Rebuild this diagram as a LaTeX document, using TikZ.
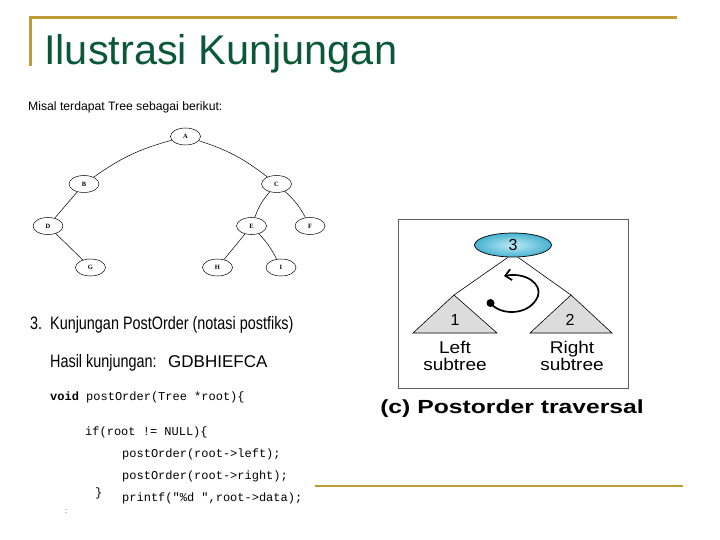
\documentclass[tikz,border=0pt]{standalone}
\usepackage{fontspec}
\setmainfont{Liberation Sans}
\setmonofont{Liberation Mono}
\newfontfamily\treefont{Liberation Serif}
\usetikzlibrary{arrows.meta,shapes.geometric}
\definecolor{slidegold}{RGB}{190,158,52}
\definecolor{titlegreen}{RGB}{10,88,56}
\definecolor{rootcyan}{RGB}{70,178,208}
\definecolor{rootlight}{RGB}{190,235,245}
\definecolor{subgray}{RGB}{220,220,220}
\definecolor{boxgray}{RGB}{95,95,95}

\tikzset{
  treenode/.style={draw,ellipse,line width=0.5pt,minimum width=30pt,minimum height=17pt,
    inner sep=0pt,font=\treefont\bfseries\fontsize{6.5}{7}\selectfont},
  treeedge/.style={line width=0.5pt},
  narrowtext/.style={anchor=base west,inner sep=0pt,xscale=0.8,font=\fontsize{18}{22}\selectfont},
  codeline/.style={anchor=base west,inner sep=0pt,font=\ttfamily\fontsize{12}{14}\selectfont},
  subtreelabel/.style={align=center,xscale=1.12,font=\fontsize{17}{17}\selectfont}
}

\begin{document}
\begin{tikzpicture}[x=1pt,y=-1pt]
  \useasboundingbox (0,0) rectangle (720,540);
  \def\Base{333}

  % slide frame
  \draw[slidegold,line width=3pt] (29,18) -- (677,18);
  \draw[slidegold,line width=3pt] (30.5,18) -- (30.5,66);
  \draw[slidegold,line width=2.5pt] (315,486) -- (683,486);

  \node[anchor=base west,inner sep=0pt,text=titlegreen,font=\fontsize{41.5}{46}\selectfont]
    (title) at (44,65) {Ilustrasi Kunjungan};

  \node[anchor=base west,inner sep=0pt,font=\fontsize{12.2}{14}\selectfont]
    (intro) at (28,111) {Misal terdapat Tree sebagai berikut:};

  % tree
  \node[treenode] (A) at (185.5,136.5) {A};
  \node[treenode] (B) at (84,184) {B};
  \node[treenode] (C) at (276.5,184) {C};
  \node[treenode] (D) at (48,226) {D};
  \node[treenode] (E) at (251.5,226) {E};
  \node[treenode] (F) at (310,226) {F};
  \node[treenode] (G) at (90.5,267.5) {G};
  \node[treenode] (H) at (217.5,267.5) {H};
  \node[treenode] (I) at (281,267.5) {I};

  \draw[treeedge] (A) to[bend right=10] (B);
  \draw[treeedge] (A) to[bend left=10] (C);
  \draw[treeedge] (B) -- (D);
  \draw[treeedge] (D) -- (G);
  \draw[treeedge] (C) to[bend right=10] (E);
  \draw[treeedge] (C) to[bend left=10] (F);
  \draw[treeedge] (E) -- (H);
  \draw[treeedge] (E) to[bend left=8] (I);

  % postorder text
  \node[narrowtext] (heading) at (30,329) {3.\ \ Kunjungan PostOrder (notasi postfiks)};
  \node[narrowtext] (hasil) at (50,367) {Hasil kunjungan:};
  \node[anchor=base west,inner sep=0pt,font=\fontsize{17}{20}\selectfont]
    (result) at (168,367) {GDBHIEFCA};

  \node[codeline] (code1) at (50,400) {\textbf{void} postOrder(Tree *root)\{};
  \node[codeline] (code2) at (85,435) {if(root != NULL)\{};
  \node[codeline] (code3) at (122,457) {postOrder(root->left);};
  \node[codeline] (code4) at (122,479) {postOrder(root->right);};
  \node[codeline] (code5) at (95,496) {\}};
  \node[codeline] (code6) at (122,501) {printf("\%d ",root->data);};
  \node[anchor=base west,inner sep=0pt,font=\fontsize{7}{8}\selectfont] (colon) at (65,513) {:};

  % postorder picture
  \draw[boxgray,line width=0.8pt] (398,219) rectangle (628,388);
  \node[draw,ellipse,inner color=rootlight,outer color=rootcyan,line width=0.7pt,
    minimum width=77pt,minimum height=24pt,inner sep=0pt,font=\fontsize{16}{16}\selectfont]
    (root) at (513,245) {3};
  \coordinate (lapex) at (454,295);
  \coordinate (rapex) at (571,295);
  \filldraw[fill=subgray,draw=black,line width=0.6pt] (lapex) -- (413,\Base) -- (497,\Base) -- cycle;
  \filldraw[fill=subgray,draw=black,line width=0.6pt] (rapex) -- (530,\Base) -- (612,\Base) -- cycle;
  \draw[line width=0.6pt] (root.248) -- (lapex);
  \draw[line width=0.6pt] (root.292) -- (rapex);
  \node[font=\fontsize{16}{16}\selectfont] (one) at (455,320) {1};
  \node[font=\fontsize{16}{16}\selectfont] (two) at (570,320) {2};

  \fill (490.5,303) circle (4pt);
  \draw[line width=1.7pt,-{Straight Barb[length=6pt,width=11pt]}]
    (490.5,303) .. controls (500,316) and (530,316) .. (538,296)
    .. controls (542,284) and (526,272) .. (504,276);

  \node[subtreelabel] (lefttree) at (455,356) {Left\\subtree};
  \node[subtreelabel] (righttree) at (572,356) {Right\\subtree};

  \node[anchor=base west,inner sep=0pt,xscale=1.3,font=\bfseries\fontsize{19}{22}\selectfont]
    (caption) at (380,413) {(c) Postorder traversal};
\end{tikzpicture}
\end{document}
